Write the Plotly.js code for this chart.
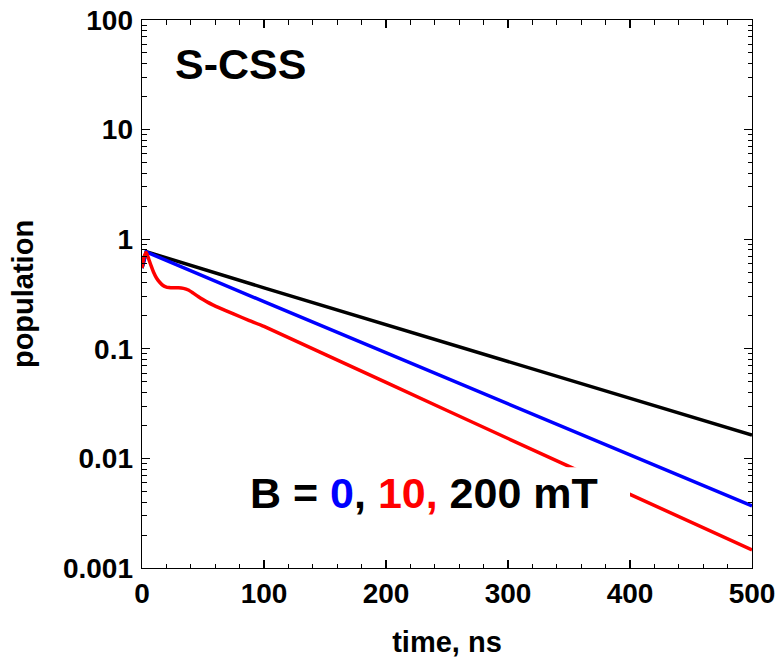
<!DOCTYPE html>
<html>
<head>
<meta charset="utf-8">
<script src="https://cdn.plot.ly/plotly-3.0.1.min.js"></script>
<style>html,body{margin:0;padding:0;background:#fff;}#chart{width:779px;height:661px;}</style>
</head>
<body>
<div id="chart"></div>
<script>
// time points (ns) and populations
var tBlack = [0, 3.5, 100, 200, 300, 400, 500];
var popBlack = [0.546, 0.769, 0.36, 0.166, 0.0763, 0.0352, 0.0163];

var tBlue = [0, 3.5, 100, 200, 300, 400, 500];
var popBlue = [0.546, 0.765, 0.269, 0.0917, 0.0313, 0.0107, 0.00368];

var tRed = [0, 1.5, 3.5, 5.5, 7.5, 9.5, 12, 14.5, 17, 19.5, 22, 26, 30, 34, 38, 42, 46, 50, 54, 58, 62, 75, 88, 100, 200, 300, 400, 500];
var popRed = [0.546, 0.68, 0.755, 0.66, 0.57, 0.5, 0.44, 0.405, 0.38, 0.368, 0.362, 0.36, 0.361, 0.356, 0.344, 0.322, 0.3, 0.281, 0.265, 0.252, 0.24, 0.208, 0.181, 0.16, 0.0493, 0.0152, 0.0047, 0.00146];

var yTickVals = [0.001, 0.01, 0.1, 1, 10, 100];
var yTickText = ['0.001', '0.01', '0.1', '1', '10', '100'];
var xTickVals = [0, 100, 200, 300, 400, 500];
var xTickText = ['0', '100', '200', '300', '400', '500'];

var FONT = 'Arial, "Liberation Sans", sans-serif';

var traces = [
  {x: tBlack, y: popBlack, mode: 'lines', line: {color: '#000000', width: 3.5}, hoverinfo: 'skip'},
  {x: tBlue, y: popBlue, mode: 'lines', line: {color: '#0000ff', width: 3.5}, hoverinfo: 'skip'},
  {x: tRed, y: popRed, mode: 'lines', line: {color: '#ff0000', width: 3.5, shape: 'spline', smoothing: 0.5}, hoverinfo: 'skip'}
];

var layout = {
  width: 779, height: 661,
  margin: {l: 142, r: 27, t: 20, b: 93},
  paper_bgcolor: '#ffffff', plot_bgcolor: '#ffffff',
  showlegend: false,
  font: {family: FONT, color: '#000'},
  xaxis: {
    range: [0, 500], tickvals: xTickVals, ticktext: xTickText,
    ticks: 'inside', ticklen: 8, tickwidth: 1.3, tickcolor: '#000',
    showline: true, linecolor: '#000', linewidth: 1.4, mirror: 'allticks',
    showgrid: false, zeroline: false,
    minor: {ticks: 'inside', dtick: 20, tick0: 0, ticklen: 4.5, tickwidth: 1, tickcolor: '#000', showgrid: false},
    tickfont: {family: FONT, size: 28, weight: 'bold', color: '#000'},
    ticklabelstandoff: 0,
    title: {text: 'time, ns', font: {family: FONT, size: 29, weight: 'bold', color: '#000'}, standoff: 23}
  },
  yaxis: {
    type: 'log', range: [-3, 2], tickvals: yTickVals, ticktext: yTickText,
    ticks: 'inside', ticklen: 8, tickwidth: 1.3, tickcolor: '#000',
    showline: true, linecolor: '#000', linewidth: 1.4, mirror: 'allticks',
    showgrid: false, zeroline: false,
    minor: {ticks: 'inside', dtick: 'D1', ticklen: 4.5, tickwidth: 1, tickcolor: '#000', showgrid: false},
    tickfont: {family: FONT, size: 28, weight: 'bold', color: '#000'},
    ticklabelstandoff: 2,
    title: {text: 'population', font: {family: FONT, size: 29, weight: 'bold', color: '#000'}, standoff: 20}
  },
  shapes: [
    {type: 'rect', xref: 'paper', yref: 'paper', x0: 0.16, x1: 0.8, y0: 0.078, y1: 0.184,
     fillcolor: '#ffffff', line: {width: 0}, layer: 'above'}
  ],
  annotations: [
    {xref: 'paper', yref: 'paper', x: 0.1607, y: 0.919, xanchor: 'center', yanchor: 'middle', showarrow: false,
     text: 'S-CSS', font: {family: FONT, size: 43, weight: 'bold', color: '#000'}},
    {xref: 'paper', yref: 'paper', x: 0.4615, y: 0.136, xanchor: 'center', yanchor: 'middle', showarrow: false,
     text: 'B = <span style="color:#0000ff">0</span>, <span style="color:#ff0000">10,</span> 200 mT',
     font: {family: FONT, size: 43, weight: 'bold', color: '#000'}}
  ]
};

Plotly.newPlot('chart', traces, layout, {displayModeBar: false, staticPlot: true});
</script>
</body>
</html>
